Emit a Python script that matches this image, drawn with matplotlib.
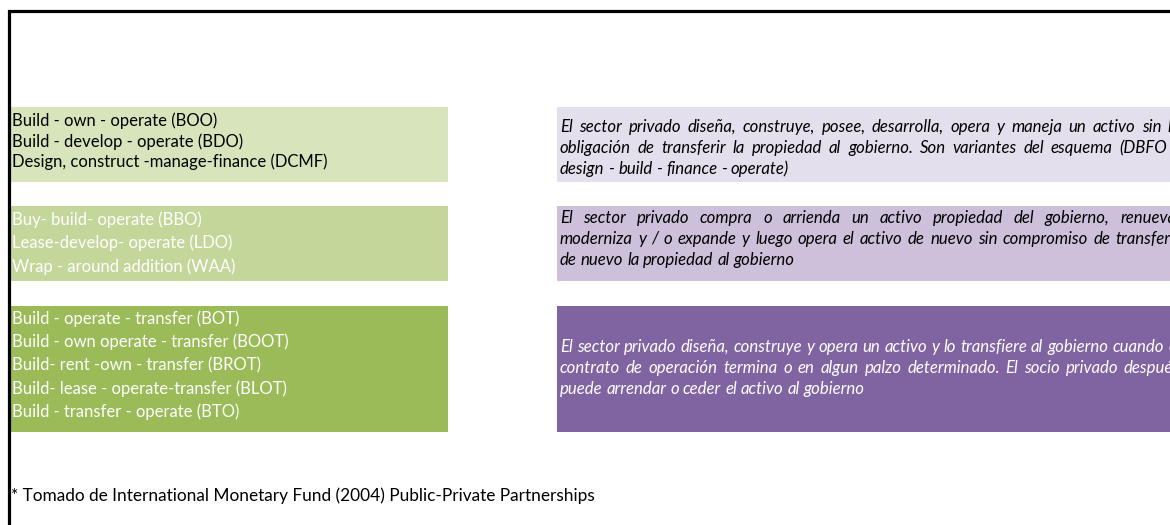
import matplotlib
matplotlib.use("Agg")
import matplotlib.pyplot as plt
from matplotlib.patches import Rectangle

# ---------------- data ----------------
left_groups = [
    ["Build - own - operate (BOO)",
     "Build - develop - operate (BDO)",
     "Design, construct -manage-finance (DCMF)"],
    ["Buy- build- operate (BBO)",
     "Lease-develop- operate (LDO)",
     "Wrap - around addition (WAA)"],
    ["Build - operate - transfer (BOT)",
     "Build - own operate - transfer (BOOT)",
     "Build- rent -own - transfer (BROT)",
     "Build- lease - operate-transfer (BLOT)",
     "Build - transfer - operate (BTO)"],
]
right_groups = [
    ["El sector privado diseña, construye, posee, desarrolla, opera y maneja un activo sin la",
     "obligación de transferir la propiedad al gobierno. Son variantes del esquema (DBFO -",
     "design - build - finance - operate)"],
    ["El sector privado compra o arrienda un activo propiedad del gobierno, renueva,",
     "moderniza y / o expande y luego opera el activo de nuevo sin compromiso de transferir",
     "de nuevo la propiedad al gobierno"],
    ["El sector privado diseña, construye y opera un activo y lo transfiere al gobierno cuando el",
     "contrato de operación termina o en algun palzo determinado. El socio privado después",
     "puede arrendar o ceder el activo al gobierno"],
]
footnote = "* Tomado de International Monetary Fund (2004) Public-Private Partnerships"

# ---------------- layout / style ----------------
W, H = 1170, 525
left_colors = ["#D8E4BC", "#C4D79B", "#9BBB59"]
right_colors = ["#E4DFEC", "#CCC0DA", "#8064A2"]
left_text_colors = ["black", "white", "white"]
right_text_colors = ["black", "black", "white"]
box_tops = [107, 206, 306]
box_bottoms = [182, 281, 432]
left_x0, left_x1 = 10, 448
right_x0, right_x1 = 557, 1230
left_first_y = [121, 220, 318.5]
left_step = [20.5, 23.2, 23.4]
right_first_y = [127, 218, 347]
right_step = [21, 21, 21]
left_text_x = 12
right_text_x = 560
right_just_end = 1180
FONT = "Lato"

fig = plt.figure(figsize=(W / 100, H / 100), dpi=100)
ax = fig.add_axes([0, 0, 1, 1])
ax.set_xlim(0, W)
ax.set_ylim(H, 0)
ax.axis("off")

renderer = fig.canvas.get_renderer()


def text_width(s, size, style="normal"):
    t = ax.text(0, 0, s, fontsize=size, family=FONT, style=style)
    bb = t.get_window_extent(renderer)
    t.remove()
    return bb.width


# fit font sizes to the widths seen in the reference
left_size = 10 * 316 / text_width("Design, construct -manage-finance (DCMF)", 10)
right_size = 10 * 306 / text_width("puede arrendar o ceder el activo al gobierno", 10, "italic")
foot_size = 10 * 585 / text_width(footnote, 10)

# border lines
ax.plot([8.5, 8.5, W + 5], [H + 5, 10.5, 10.5], color="black", lw=2.3,
        solid_capstyle="projecting", solid_joinstyle="miter")

# boxes
for i in range(3):
    ax.add_patch(Rectangle((left_x0, box_tops[i]), left_x1 - left_x0,
                           box_bottoms[i] - box_tops[i], color=left_colors[i], lw=0))
    ax.add_patch(Rectangle((right_x0, box_tops[i]), right_x1 - right_x0,
                           box_bottoms[i] - box_tops[i], color=right_colors[i], lw=0))

# left texts
for i, lines in enumerate(left_groups):
    for j, line in enumerate(lines):
        ax.text(left_text_x, left_first_y[i] + j * left_step[i], line,
                fontsize=left_size, family=FONT, color=left_text_colors[i],
                va="center", ha="left")

# right texts (justified except last line)
space_w = text_width("x x", right_size, "italic") - text_width("xx", right_size, "italic")
for i, lines in enumerate(right_groups):
    for j, line in enumerate(lines):
        y = right_first_y[i] + j * right_step[i]
        words = line.split(" ")
        widths = [text_width(w, right_size, "italic") for w in words]
        gap = space_w
        if j < len(lines) - 1 and len(words) > 1:
            gap = max(space_w,
                      (right_just_end - right_text_x - sum(widths)) / (len(words) - 1))
        x = right_text_x
        for w, wd in zip(words, widths):
            ax.text(x, y, w, fontsize=right_size, family=FONT, style="italic",
                    color=right_text_colors[i], va="center", ha="left")
            x += wd + gap

# footnote
ax.text(left_text_x - 1, 496, footnote, fontsize=foot_size, family=FONT,
        color="black", va="center", ha="left")

fig.savefig("out.png", dpi=100)
